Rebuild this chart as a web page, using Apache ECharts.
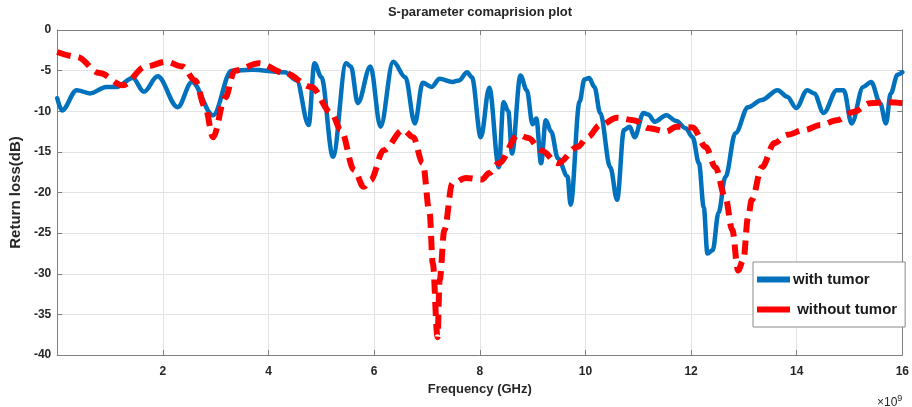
<!DOCTYPE html>
<html>
<head>
<meta charset="utf-8">
<script src="https://cdn.jsdelivr.net/npm/echarts@6/dist/echarts.min.js"></script>
<style>
html,body{margin:0;padding:0;background:#fff;}
#chart{width:912px;height:407px;}
</style>
</head>
<body>
<div id="chart"></div>
<script>
// Frequency in GHz (axis shows x10^9 Hz)
const withFreq = [0.00,0.09,0.37,0.62,0.93,1.12,1.43,1.64,1.90,2.28,2.55,2.95,3.30,3.69,4.31,4.53,4.76,4.87,5.00,5.22,5.47,5.56,5.69,5.93,6.12,6.36,6.59,6.77,6.92,7.09,7.24,7.48,7.61,7.76,7.85,8.02,8.18,8.36,8.45,8.54,8.61,8.77,8.89,9.00,9.07,9.16,9.25,9.35,9.48,9.66,9.72,9.89,9.98,10.07,10.17,10.28,10.47,10.60,10.73,10.84,10.93,11.10,11.19,11.31,11.53,11.72,11.90,12.03,12.15,12.24,12.31,12.41,12.52,12.65,12.84,13.08,13.34,13.64,13.82,13.99,14.20,14.33,14.51,14.76,14.89,15.04,15.26,15.41,15.58,15.69,15.78,15.91,16.00];
const withRL   = [-8.4,-9.9,-7.4,-7.8,-7.0,-7.0,-5.9,-7.6,-5.7,-9.5,-6.4,-10.5,-5.0,-4.9,-5.2,-6.2,-11.7,-4.1,-5.8,-15.6,-4.1,-4.5,-9.0,-4.5,-11.9,-3.9,-5.8,-11.5,-6.5,-7.0,-6.0,-6.4,-6.2,-5.2,-5.8,-13.2,-7.1,-16.9,-8.9,-10.0,-15.2,-5.6,-7.4,-11.6,-10.9,-16.4,-11.1,-12.5,-15.8,-18.0,-21.5,-8.8,-6.1,-5.9,-7.0,-10.2,-16.9,-20.9,-12.3,-11.9,-13.2,-10.2,-10.4,-11.3,-10.5,-11.2,-12.1,-13.2,-16.4,-21.8,-27.5,-27.1,-22.5,-18.1,-12.7,-9.5,-8.6,-7.4,-8.2,-9.6,-7.4,-7.8,-10.2,-7.4,-7.4,-11.5,-7.0,-6.4,-9.0,-11.5,-7.8,-5.5,-5.2];

const withoutFreq = [0.00,0.37,0.80,1.24,1.68,2.06,2.37,2.61,2.80,2.95,3.18,3.36,3.82,4.31,4.81,5.19,5.37,5.62,5.80,5.93,6.18,6.55,6.74,6.92,7.05,7.11,7.20,7.24,7.33,7.48,7.74,8.04,8.18,8.36,8.73,8.92,9.16,9.48,9.85,10.04,10.28,10.60,10.91,11.21,11.53,11.72,12.03,12.28,12.46,12.65,12.78,12.89,12.99,13.08,13.15,13.34,13.58,13.82,14.14,14.46,14.76,15.07,15.39,15.69,16.00];
const withoutRL   = [-2.7,-3.3,-5.3,-6.8,-4.5,-3.9,-4.5,-6.2,-9.5,-13.2,-8.3,-5.0,-4.1,-5.3,-7.0,-10.2,-12.3,-17.2,-19.3,-18.5,-14.8,-12.3,-13.2,-16.4,-22.5,-28.7,-37.8,-30.8,-24.6,-18.9,-18.2,-18.4,-17.6,-16.4,-12.9,-13.3,-14.8,-16.4,-14.4,-13.2,-11.7,-10.8,-11.1,-12.1,-12.5,-11.9,-12.0,-14.4,-16.9,-20.6,-24.6,-29.6,-28.3,-23.0,-20.9,-16.9,-13.9,-12.9,-12.3,-11.7,-11.1,-10.1,-9.0,-8.9,-9.0];

const xTicks = [0,2,4,6,8,10,12,14,16];
const yTicks = [0,-5,-10,-15,-20,-25,-30,-35,-40];

const withData = withFreq.map((f,i)=>[f, withRL[i]]);
const withoutData = withoutFreq.map((f,i)=>[f, withoutRL[i]]);

const chart = echarts.init(document.getElementById('chart'), null, {renderer:'canvas'});
const fontFam = '"Liberation Sans", Arial, sans-serif';
const axisCol = '#7f7f7f';
const gridCol = '#e3e3e3';
const labelStyle = {fontFamily:fontFam, fontWeight:'bold', fontSize:12, color:'#262626'};

chart.setOption({
  animation:false,
  backgroundColor:'#fff',
  grid:{left:52, right:3, top:30, bottom:52, containLabel:false},
  graphic:[
    {type:'text', x:480, y:6, style:{text:'S-parameter comaprision plot', font:'bold 13px '+fontFam, fill:'#262626', textAlign:'center'}},
    {type:'text', x:877, y:389, style:{text:'{a|×10}{b|9}', rich:{a:{font:'12px '+fontFam, fill:'#262626', padding:[8,0,0,0]}, b:{font:'9px '+fontFam, fill:'#262626'}}}}
  ],
  legend:{
    orient:'vertical', left:753, top:262,
    backgroundColor:'#fff', borderColor:'#8a8a8a', borderWidth:1, borderRadius:0,
    padding:[10,8,10,4], itemGap:15,
    itemWidth:33, itemHeight:6, icon:'rect',
    formatter: n => n === 'without tumor' ? ' ' + n : n,
    textStyle:{fontFamily:fontFam, fontWeight:'bold', fontSize:15, color:'#1a1a1a', padding:[0,0,0,-2]},
    data:['with tumor','without tumor']
  },
  xAxis:[
    {type:'value', min:0, max:16, interval:2, position:'bottom',
     name:'Frequency (GHz)', nameLocation:'middle', nameGap:28,
     nameTextStyle:{fontFamily:fontFam, fontWeight:'bold', fontSize:13, color:'#262626'},
     axisLine:{show:true, onZero:false, lineStyle:{color:axisCol, width:1}},
     axisTick:{show:true, inside:true, length:5, lineStyle:{color:axisCol}},
     axisLabel:{...labelStyle, margin:11, showMinLabel:true, formatter: v => (v === 0 ? '' : String(v))},
     splitLine:{show:true, lineStyle:{color:gridCol, width:1}}
    },
    {type:'value', min:0, max:16, interval:2, position:'top',
     axisLine:{show:true, onZero:false, lineStyle:{color:axisCol, width:1}},
     axisTick:{show:true, inside:true, length:5, lineStyle:{color:axisCol}},
     axisLabel:{show:false}, splitLine:{show:false}
    }
  ],
  yAxis:[
    {type:'value', min:-40, max:0, interval:5, position:'left',
     name:'Return loss(dB)', nameLocation:'middle', nameGap:33, nameRotate:90,
     nameTextStyle:{fontFamily:fontFam, fontWeight:'bold', fontSize:15, color:'#262626'},
     axisLine:{show:true, onZero:false, lineStyle:{color:axisCol, width:1}},
     axisTick:{show:true, inside:true, length:5, lineStyle:{color:axisCol}},
     axisLabel:{...labelStyle, margin:6, formatter: v => String(v)},
     splitLine:{show:true, lineStyle:{color:gridCol, width:1}}
    },
    {type:'value', min:-40, max:0, interval:5, position:'right',
     axisLine:{show:true, onZero:false, lineStyle:{color:axisCol, width:1}},
     axisTick:{show:true, inside:true, length:5, lineStyle:{color:axisCol}},
     axisLabel:{show:false}, splitLine:{show:false}
    }
  ],
  series:[
    {name:'with tumor', type:'line', xAxisIndex:0, yAxisIndex:0, data:withData,
     showSymbol:false, symbol:'none', smooth:0.35, smoothMonotone:'x',
     color:'#0072BD', lineStyle:{color:'#0072BD', width:4.5, cap:'round', join:'round'}, z:2},
    {name:'without tumor', type:'line', xAxisIndex:0, yAxisIndex:0, data:withoutData,
     showSymbol:false, symbol:'none', smooth:0.35, smoothMonotone:'x',
     color:'#FF0000', lineStyle:{color:'#FF0000', width:6, type:[14,8], cap:'butt', join:'round'}, z:3}
  ]
});
</script>
</body>
</html>
